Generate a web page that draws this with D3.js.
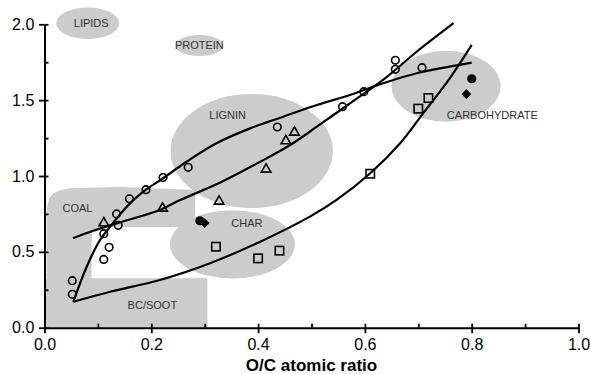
<!DOCTYPE html>
<html>
<head>
<meta charset="utf-8">
<script src="https://cdn.jsdelivr.net/npm/d3@7"></script>
<style>
  body { margin: 0; background: #fff; }
  svg { display: block; font-family: "Liberation Sans", Arial, Helvetica, sans-serif; }
</style>
</head>
<body>
<div id="chart"></div>
<script>
// measured points (O/C, H/C)
const openCircles = [
  [0.052, 0.31], [0.052, 0.22], [0.111, 0.62], [0.121, 0.53], [0.111, 0.45],
  [0.135, 0.75], [0.138, 0.675], [0.159, 0.85], [0.190, 0.91], [0.222, 0.99],
  [0.269, 1.057], [0.436, 1.323], [0.558, 1.457], [0.598, 1.556],
  [0.657, 1.763], [0.657, 1.703], [0.707, 1.714]
];
const openTriangles = [
  [0.111, 0.69], [0.221, 0.787], [0.327, 0.833], [0.415, 1.044],
  [0.452, 1.231], [0.468, 1.288]
];
const openSquares = [
  [0.321, 0.534], [0.400, 0.457], [0.440, 0.508], [0.610, 1.015],
  [0.700, 1.444], [0.719, 1.514]
];
const filledCircles = [[0.291, 0.705], [0.800, 1.641]];
const filledDiamonds = [[0.300, 0.690], [0.790, 1.540]];

// fitted trend lines
const circleFit = [
  [0.054, 0.171], [0.079, 0.402], [0.104, 0.578], [0.123, 0.666], [0.154, 0.798],
  [0.185, 0.897], [0.222, 0.985], [0.266, 1.094], [0.322, 1.216], [0.385, 1.314],
  [0.447, 1.391], [0.510, 1.468], [0.572, 1.534], [0.634, 1.611], [0.697, 1.677],
  [0.800, 1.747]
];
const triangleFit = [
  [0.053, 0.589], [0.091, 0.639], [0.135, 0.688], [0.216, 0.776], [0.254, 0.842],
  [0.322, 0.945], [0.404, 1.094], [0.460, 1.204], [0.510, 1.325], [0.572, 1.479],
  [0.634, 1.633], [0.697, 1.819], [0.766, 2.007]
];
const squareFit = [
  [0.054, 0.171], [0.123, 0.237], [0.216, 0.314], [0.310, 0.425], [0.404, 0.567],
  [0.497, 0.732], [0.547, 0.842], [0.610, 1.018], [0.666, 1.216], [0.709, 1.413],
  [0.759, 1.644], [0.800, 1.864]
];

// compound-class fields: name, centre, radii, label anchor
const fields = [
  { name: "LIPIDS",       cx: 0.081, cy: 2.007, rx: 0.059, ry: 0.104, lx: 0.0875, ly: 1.980 },
  { name: "PROTEIN",      cx: 0.290, cy: 1.860, rx: 0.045, ry: 0.069, lx: 0.290,  ly: 1.837 },
  { name: "LIGNIN",       cx: 0.388, cy: 1.165, rx: 0.152, ry: 0.376, lx: 0.343,  ly: 1.374 },
  { name: "CHAR",         cx: 0.352, cy: 0.550, rx: 0.117, ry: 0.225, lx: 0.379,  ly: 0.666 },
  { name: "CARBOHYDRATE", cx: 0.752, cy: 1.592, rx: 0.102, ry: 0.234, lx: 0.8386, ly: 1.374 }
];
const coalOutline = [
  [0.004, 0.25], [0.004, 0.742], [0.005, 0.80], [0.009, 0.855], [0.018, 0.889],
  [0.033, 0.910], [0.050, 0.921], [0.141, 0.928], [0.216, 0.918], [0.282, 0.908],
  [0.282, 0.664], [0.104, 0.664], [0.094, 0.650], [0.089, 0.620], [0.088, 0.545],
  [0.088, 0.25]
];
const coalLabel = [0.0618, 0.765];
const sootBox = [0.0, 0.0, 0.305, 0.326];
const sootLabel = [0.202, 0.123];

const xMajor = [0, 0.2, 0.4, 0.6, 0.8, 1.0];
const xMinor = [0, 0.1, 0.2, 0.3, 0.4, 0.5, 0.6, 0.7, 0.8, 0.9, 1.0];
const yMajor = [0, 0.5, 1.0, 1.5, 2.0];
const yMinor = [0, 0.25, 0.5, 0.75, 1.0, 1.25, 1.5, 1.75, 2.0];

const W = 590, H = 374;
const x = d3.scaleLinear().domain([0, 1]).range([44.5, 578.5]);
const y = d3.scaleLinear().domain([0, 2]).range([327.7, 24.3]);
const grey = "#cccccc";

const svg = d3.select("#chart").append("svg")
  .attr("width", W).attr("height", H);

// background fields
const bg = svg.append("g").attr("fill", grey);
bg.append("rect")
  .attr("x", x(sootBox[0])).attr("y", y(sootBox[3]))
  .attr("width", x(sootBox[2]) - x(sootBox[0]))
  .attr("height", y(sootBox[1]) - y(sootBox[3]));
bg.append("path")
  .attr("d", d3.line().x(d => x(d[0])).y(d => y(d[1])).curve(d3.curveLinearClosed)(coalOutline));
bg.selectAll("ellipse").data(fields).join("ellipse")
  .attr("cx", d => x(d.cx)).attr("cy", d => y(d.cy))
  .attr("rx", d => x(d.rx) - x(0)).attr("ry", d => y(0) - y(d.ry));

const labels = svg.append("g")
  .attr("font-size", 11).attr("fill", "#333").attr("text-anchor", "middle");
labels.selectAll("text.f").data(fields).join("text")
  .attr("class", "f")
  .attr("x", d => x(d.lx)).attr("y", d => y(d.ly)).text(d => d.name);
labels.append("text").attr("x", x(coalLabel[0])).attr("y", y(coalLabel[1])).text("COAL");
labels.append("text").attr("x", x(sootLabel[0])).attr("y", y(sootLabel[1])).text("BC/SOOT");

// trend lines
const line = d3.line().x(d => x(d[0])).y(d => y(d[1])).curve(d3.curveCatmullRom);
svg.append("g")
  .attr("fill", "none").attr("stroke", "#000").attr("stroke-width", 2.2)
  .selectAll("path").data([circleFit, triangleFit, squareFit]).join("path")
  .attr("d", line);

// markers
const marks = svg.append("g").attr("stroke", "#000").attr("stroke-width", 1.6);
marks.selectAll("circle.o").data(openCircles).join("circle")
  .attr("class", "o").attr("fill", "none").attr("r", 3.8)
  .attr("cx", d => x(d[0])).attr("cy", d => y(d[1]));
marks.selectAll("rect.s").data(openSquares).join("rect")
  .attr("class", "s").attr("fill", "none")
  .attr("x", d => x(d[0]) - 4.2).attr("y", d => y(d[1]) - 4.2)
  .attr("width", 8.4).attr("height", 8.4);
const tri = d3.symbol().type(d3.symbolTriangle).size(40);
marks.selectAll("path.t").data(openTriangles).join("path")
  .attr("class", "t").attr("fill", "none").attr("stroke-linejoin", "miter")
  .attr("transform", d => `translate(${x(d[0])},${y(d[1])})`)
  .attr("d", tri);
marks.selectAll("circle.f").data(filledCircles).join("circle")
  .attr("class", "f").attr("fill", "#000").attr("stroke", "none").attr("r", 4.6)
  .attr("cx", d => x(d[0])).attr("cy", d => y(d[1]));
const dia = d3.symbol().type(d3.symbolDiamond2).size(60);
marks.selectAll("path.d").data(filledDiamonds).join("path")
  .attr("class", "d").attr("fill", "#000").attr("stroke", "none")
  .attr("transform", d => `translate(${x(d[0])},${y(d[1])})`)
  .attr("d", dia);

// axes
svg.append("g").attr("transform", `translate(0,${y(0)})`)
  .call(d3.axisBottom(x).tickValues(xMajor).tickSize(5.5).tickSizeOuter(0)
    .tickPadding(5.4).tickFormat(d3.format(".1f")));
svg.append("g").attr("transform", `translate(0,${y(0)})`)
  .call(d3.axisBottom(x).tickValues(xMinor).tickSize(-4).tickSizeOuter(0).tickFormat(""))
  .call(g => g.select(".domain").remove());

svg.append("g").attr("transform", `translate(${x(0)},0)`)
  .call(d3.axisLeft(y).tickValues(yMajor).tickSize(5.5).tickSizeOuter(0)
    .tickPadding(4.7).tickFormat(d3.format(".1f")));
svg.append("g").attr("transform", `translate(${x(0)},0)`)
  .call(d3.axisLeft(y).tickValues(yMinor).tickSize(-4).tickSizeOuter(0).tickFormat(""))
  .call(g => g.select(".domain").remove());

svg.selectAll(".domain").attr("stroke-width", 2);
svg.selectAll(".tick line").attr("stroke-width", 1.8);
svg.selectAll(".tick text")
  .attr("font-size", 16).attr("fill", "#000")
  .attr("font-family", "'Liberation Sans', Arial, sans-serif");

svg.append("text")
  .attr("x", x(0.5)).attr("y", 371)
  .attr("text-anchor", "middle")
  .attr("font-size", 17).attr("font-weight", "bold")
  .text("O/C atomic ratio");
</script>
</body>
</html>
